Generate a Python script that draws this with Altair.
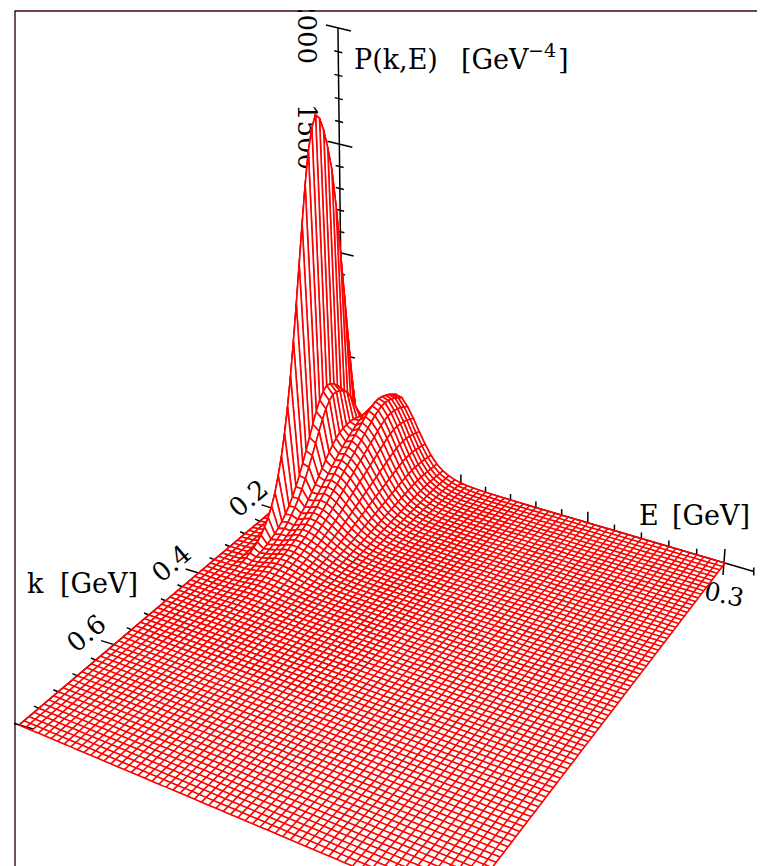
import altair as alt
import pandas as pd

alt.data_transformers.disable_max_rows()

# ---- values ----
K_MAX, E_MAX = 0.8, 0.3
N_K, N_E = 80, 60   # grid cells along k and along E

# amplitude of the three ridges in GeV^-4
AMP = [1680, 450, 415]

# momentum profiles at k = 0, 0.01, 0.02, ...
KP = [0, .015, .06, .14, .24, .36, .49, .62, .74, .84, .90, .95, .985, 1, .975, .925, .85, .76,
      .665, .57, .48, .395, .32, .255, .2, .155, .116, .087, .064, .046, .033, .023, .016, .011, .007,
      .005, .003, .002, .001]
KS = [.9, .93, .96, .98, .995, 1, .99, .97, .94, .9, .86, .82, .78, .74, .7, .66, .62, .58, .54, .5,
      .46, .42, .38, .34, .31, .28, .25, .225, .2, .18, .16, .14, .125, .11, .095, .085, .07, .058, .048,
      .04, .033, .027, .022, .018, .015, .012, .01, .008, .006, .005, .004, .003, .002, .002, .001]

# energy profiles at E = 0, 0.005, 0.010, ...
E1 = [0, .005, .02, .08, 1, .03, .012, .006, .003, .001]
E2 = [0, .005, .01, .03, .12, 1, .88, .35, .1, .03, .01, .005]
E3 = [0, .02, .04, .07, .12, .2, .36, .58, .85, 1, .98, .88, .74, .58, .43, .3, .2, .13, .085, .055, .035,
      .023, .015, .01, .007, .005, .003, .002, .001]

Z_MAJOR = [0, 500, 1000, 1500, 2000]
Z_MINOR = [100, 200, 300, 400, 600, 700, 800, 900, 1100, 1200, 1300, 1400, 1600, 1700, 1800, 1900]
K_MAJOR = [0.2, 0.4, 0.6, 0.8]
K_MINOR = [.04, .08, .12, .16, .24, .28, .32, .36, .44, .48, .52, .56, .64, .68, .72, .76]
E_MAJOR = [0.1, 0.2, 0.3, 0.32]
E_MINOR = [.02, .04, .06, .08, .12, .14, .16, .18, .22, .24, .26, .28]

LABELS = ["2000", "1500", "0.2", "0.4", "0.6", "0.3"]
LABEL_X = [306, 306, 249, 172, 87, 724]
LABEL_Y = [31, 137, 499, 564, 634, 595]
LABEL_A = [90, 90, 320, 320, 320, 12]
LABEL_S = [26, 26, 26, 26, 26, 25]

TITLES = ["P(k,E)", "[GeV", "\u22124", "]", "k", "[GeV]", "E", "[GeV]"]
TITLE_X = [354, 461, 528, 558, 27, 60, 639, 672]
TITLE_Y = [69, 69, 57, 69, 593, 593, 525, 525]
TITLE_S = [27, 27, 19, 27, 27, 27, 27, 27]

# ---- viewing transform ----
P0, P1, P2, P3 = (343, 451), (725, 563), (459, 911), (19, 725)
R_Z, CX_Z, CY_Z = -6e-5, -0.0228, -0.2132

dx1, dx2, sx = P1[0] - P2[0], P3[0] - P2[0], P0[0] - P1[0] + P2[0] - P3[0]
dy1, dy2, sy = P1[1] - P2[1], P3[1] - P2[1], P0[1] - P1[1] + P2[1] - P3[1]
den = dx1 * dy2 - dx2 * dy1
G = (sx * dy2 - dx2 * sy) / den
H = (dx1 * sy - sx * dy1) / den
AX, BX = P1[0] - P0[0] + G * P1[0], P3[0] - P0[0] + H * P3[0]
AY, BY = P1[1] - P0[1] + G * P1[1], P3[1] - P0[1] + H * P3[1]


def proj(e, k, z=0.0):
    s, t = e / E_MAX, k / K_MAX
    w = 1 + G * s + H * t + R_Z * z
    return (round((P0[0] + AX * s + BX * t + CX_Z * z) / w, 2),
            round((P0[1] + AY * s + BY * t + CY_Z * z) / w, 2))


def at(a, i):
    return a[i] if i < len(a) else 0.0


def height(i, j):
    return (AMP[0] * at(KP, i) * at(E1, j) + AMP[1] * at(KP, i) * at(E2, j)
            + AMP[2] * at(KS, i) * at(E3, j))


def pt(i, j):
    return proj(j * E_MAX / N_E, i * K_MAX / N_K, height(i, j))


# ---- tables ----
line_rows, gid = [], 0
for i in range(N_K + 1):
    for j in range(N_E + 1):
        x, y = pt(i, j)
        line_rows.append((x, y, gid, j))
    gid += 1
for j in range(N_E + 1):
    for i in range(N_K + 1):
        x, y = pt(i, j)
        line_rows.append((x, y, gid, i))
    gid += 1
grid = pd.DataFrame(line_rows, columns=["x", "y", "id", "o"])

quad_rows, qid = [], 0
for i in range(0, 56):
    for j in range(0, 30):
        corners = [(i, j), (i, j + 1), (i + 1, j + 1), (i + 1, j), (i, j)]
        for o, (a, b) in enumerate(corners):
            x, y = pt(a, b)
            quad_rows.append((x, y, qid, o))
        qid += 1
quads = pd.DataFrame(quad_rows, columns=["x", "y", "id", "o"])


def seg(rows, p, q):
    n = rows[-1][2] + 1 if rows else 0
    rows.append((p[0], p[1], n, 0))
    rows.append((q[0], q[1], n, 1))


def off(p, d):
    return (p[0] + d[0], p[1] + d[1])


ax = []
seg(ax, proj(0, 0, 0), proj(0, 0, 2000))
seg(ax, proj(0, 0), proj(0, K_MAX))
seg(ax, proj(0, 0), proj(0.32, 0))
for z in Z_MAJOR[1:]:
    p = proj(0, 0, z)
    seg(ax, off(p, (-12, -3)), off(p, (13, 3)))
for z in Z_MINOR:
    p = proj(0, 0, z)
    seg(ax, off(p, (-4, -1)), off(p, (4, 1)))
for k in K_MAJOR:
    p = proj(0, k)
    seg(ax, off(p, (-13, -4)), p if k < 0.8 else off(p, (14, 4)))
for k in K_MINOR:
    p = proj(0, k)
    seg(ax, off(p, (-5, -2)), off(p, (2, 1)))
for e in E_MAJOR:
    p = proj(e, 0)
    if e < 0.25:
        seg(ax, off(p, (0, -11)), p)
    elif e < 0.31:
        seg(ax, off(p, (0, -14)), off(p, (-2, 12)))
    else:
        seg(ax, off(p, (0, -4)), off(p, (0, 4)))
for e in E_MINOR:
    p = proj(e, 0)
    seg(ax, off(p, (0, -6)), p)
axes_df = pd.DataFrame(ax, columns=["x", "y", "id", "o"])

frame_df = pd.DataFrame({"x": [757, 15, 15], "y": [11, 11, 866], "o": [0, 1, 2]})
lab_df = pd.DataFrame({"x": LABEL_X, "y": LABEL_Y, "t": LABELS, "a": LABEL_A, "s": LABEL_S})
tit_df = pd.DataFrame({"x": TITLE_X, "y": TITLE_Y, "t": TITLES, "s": TITLE_S})

# ---- chart: scales are the picture's pixels ----
X = alt.X("x:Q", scale=alt.Scale(domain=[14, 757]), axis=None)
Y = alt.Y("y:Q", scale=alt.Scale(domain=[866, 10]), axis=None)
RED = "#ff0000"
SW = 1.6

frame = alt.Chart(frame_df).mark_line(color="#3a0a10", strokeWidth=1.4).encode(X, Y, order="o:Q")
axes = alt.Chart(axes_df).mark_line(color="black", strokeWidth=1.5, clip=True).encode(
    X, Y, detail="id:N", order="o:Q")
labels = alt.Chart(lab_df).mark_text(font="DejaVu Serif", align="center",
                                     baseline="middle", clip=True, color="black").encode(
    X, Y, text="t:N", angle=alt.Angle("a:Q", scale=None),
    size=alt.Size("s:Q", scale=None, legend=None))
titles = alt.Chart(tit_df).mark_text(font="DejaVu Serif", align="left", baseline="alphabetic",
                                     color="black").encode(
    X, Y, text="t:N", size=alt.Size("s:Q", scale=None, legend=None))
net = alt.Chart(grid).mark_line(color=RED, strokeWidth=SW, clip=True).encode(
    X, Y, detail="id:N", order="o:Q")
skin = alt.Chart(quads).mark_line(stroke=RED, fill="white", strokeWidth=SW, clip=True).encode(
    X, Y, detail="id:N", order="o:Q")

chart = alt.layer(frame, axes, labels, titles, net, skin).properties(
    width=743, height=856,
    padding={"left": 6, "top": 2, "right": 0, "bottom": 0},
    autosize=alt.AutoSizeParams(type="none"),
).configure_view(stroke=None)

chart.save("out.html", embed_options={"renderer": "svg", "actions": False})
